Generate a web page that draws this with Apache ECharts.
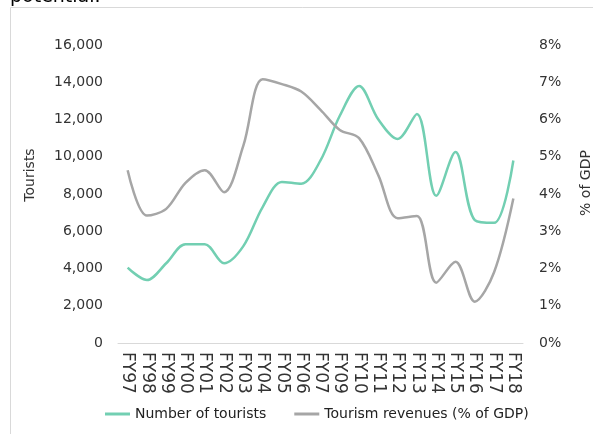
<!DOCTYPE html>
<html>
<head>
<meta charset="utf-8">
<script src="https://cdn.jsdelivr.net/npm/echarts@6/dist/echarts.min.js"></script>
<style>html,body{margin:0;padding:0;background:#fff;}#c{width:593px;height:434px;}</style>
</head>
<body>
<div id="c"></div>
<script>
const categories = ['FY97','FY98','FY99','FY00','FY01','FY02','FY03','FY04','FY05','FY06','FY07','FY09','FY10','FY11','FY12','FY13','FY14','FY15','FY16','FY17','FY18'];
const tourists = [4050, 3380, 4280, 5300, 5300, 4280, 5200, 7300, 8650, 8550, 9800, 12200, 13800, 12000, 10950, 12300, 7900, 10250, 6600, 6450, 9800];
const revenues = [4.64, 3.42, 3.6, 4.3, 4.64, 4.05, 5.3, 7.08, 6.95, 6.75, 6.26, 5.72, 5.5, 4.5, 3.35, 3.41, 1.62, 2.18, 1.11, 1.9, 3.88];
const seriesNames = ['Number of tourists', 'Tourism revenues (% of GDP)'];

const FONT = 'DejaVu Sans';
const chart = echarts.init(document.getElementById('c'), null, {renderer: 'canvas'});
chart.setOption({
  animation: false,
  textStyle: {fontFamily: FONT},
  graphic: [
    {type: 'rect', shape: {x: 10.5, y: 7.5, width: 600, height: 440}, style: {fill: 'none', stroke: '#d9d9d9', lineWidth: 1}},
    {type: 'text', x: 10, y: 7, style: {text: 'potential.', font: '19px ' + FONT, fill: '#000', verticalAlign: 'bottom'}},
    {type: 'text', x: 30, y: 175, rotation: Math.PI / 2, style: {text: 'Tourists', font: '14px ' + FONT, fill: '#333', align: 'center', verticalAlign: 'middle'}},
    {type: 'text', x: 586, y: 183, rotation: Math.PI / 2, style: {text: '% of GDP', font: '14px ' + FONT, fill: '#333', align: 'center', verticalAlign: 'middle'}}
  ],
  legend: {
    bottom: 8, left: 100, itemGap: 28, itemWidth: 25, itemHeight: 3,
    icon: 'rect',
    textStyle: {fontSize: 14, color: '#222', fontFamily: FONT},
    data: seriesNames
  },
  grid: {left: 118, right: 70, top: 45, bottom: 91},
  xAxis: {
    type: 'category', data: categories, boundaryGap: true,
    axisLine: {lineStyle: {color: '#d9d9d9', width: 1}},
    axisTick: {show: false},
    axisLabel: {rotate: -90, interval: 0, fontSize: 17, color: '#333', margin: 9, fontFamily: FONT}
  },
  yAxis: [
    {type: 'value', min: 0, max: 16000, interval: 2000, splitLine: {show: false},
     axisLine: {show: false}, axisTick: {show: false},
     axisLabel: {fontSize: 14, color: '#333', margin: 15, fontFamily: FONT, formatter: v => v.toLocaleString('en-US')}},
    {type: 'value', min: 0, max: 8, interval: 1, splitLine: {show: false},
     axisLine: {show: false}, axisTick: {show: false},
     axisLabel: {fontSize: 14, color: '#333', margin: 16, fontFamily: FONT, formatter: v => v + '%'}}
  ],
  series: [
    {name: seriesNames[0], type: 'line', data: tourists, yAxisIndex: 0, smooth: 0.33, showSymbol: false,
     lineStyle: {color: '#72cfb2', width: 2.5}, itemStyle: {color: '#72cfb2'}},
    {name: seriesNames[1], type: 'line', data: revenues, yAxisIndex: 1, smooth: 0.33, showSymbol: false,
     lineStyle: {color: '#a6a6a6', width: 2.5}, itemStyle: {color: '#a6a6a6'}}
  ]
});
</script>
</body>
</html>
